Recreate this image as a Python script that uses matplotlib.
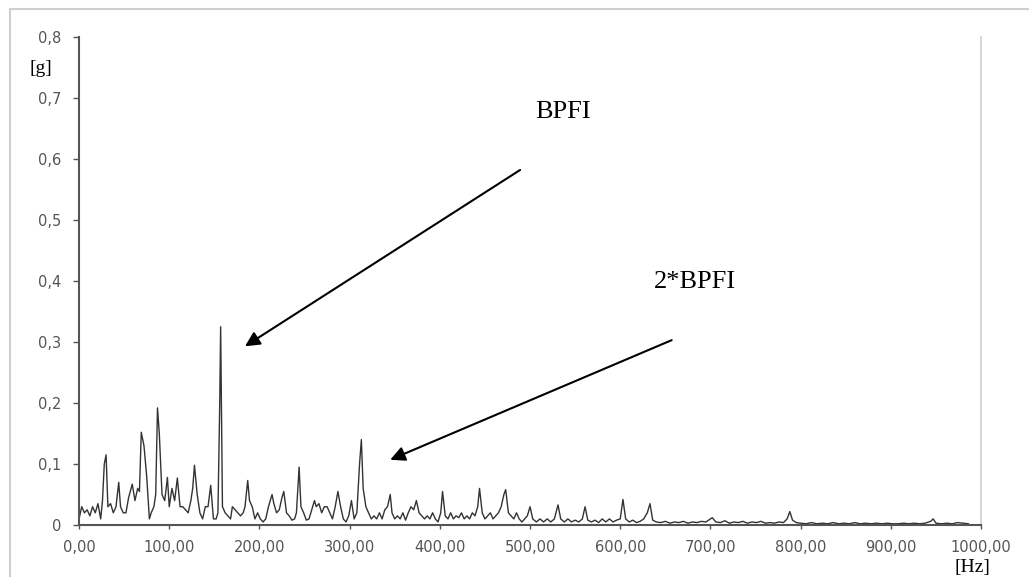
import numpy as np
import matplotlib
matplotlib.use("Agg")
import matplotlib.pyplot as plt
from matplotlib.patches import Rectangle

# spectrum: frequency [Hz] and amplitude [g]
freq = [0, 3, 6, 9, 12, 15, 18, 21, 24, 26, 28, 30, 32, 35, 38, 41, 44, 46, 49,
        52, 55, 59, 62, 65, 67, 69, 72, 75, 78, 80, 83, 85, 87, 89, 92, 95, 98,
        100, 103, 106, 109, 112, 115, 118, 121, 124, 126, 128, 131, 134, 137,
        140, 143, 146, 149, 152, 154, 156, 157, 159,
        162, 165, 168, 170, 173, 176, 179, 182, 184, 187, 189, 192, 195, 198,
        201, 204, 207, 210, 214, 216, 219, 222, 225, 227, 230, 233, 236, 239,
        241, 244, 246, 249,
        252, 255, 258, 261, 263, 266, 269, 272, 275, 278, 281, 284, 287, 290,
        293, 296, 299, 302, 305, 308, 311, 313, 315, 318, 321, 324, 327, 330,
        333, 336, 339, 342, 345, 347, 350,
        353, 356, 359, 362, 365, 368, 371, 374, 377, 380, 383, 386, 389, 392,
        395, 398, 401, 403, 406, 409, 412, 415, 418, 421, 424, 427, 430, 433,
        436, 439, 442, 444, 447, 450, 453, 456, 459, 462, 465, 468, 471, 473,
        476, 479, 482, 485, 488, 491, 494, 497, 500, 503,
        507, 511, 515, 519, 523, 527, 531, 534, 538, 542, 546, 550, 554, 558,
        561, 564, 568, 572, 576, 580, 584, 588, 592, 596, 600, 603, 606, 610,
        614, 618, 622, 626, 630, 633, 636, 640, 645, 650, 655, 660, 665, 670,
        675, 680, 685, 690, 695, 700, 702,
        706, 711, 716, 721, 726, 731, 736, 741, 746, 751, 756, 761, 766, 771,
        776, 781, 785, 788, 791, 795, 800, 806, 812, 818, 824, 830, 836, 842,
        848, 854, 860, 866, 872, 878, 884, 890, 896, 902, 908, 914, 920, 926,
        932, 938, 944, 947, 950, 956, 962, 968, 974, 980, 986]

amp = [0.01, 0.03, 0.02, 0.025, 0.015, 0.03, 0.02, 0.035, 0.01, 0.04, 0.10, 0.115, 0.03, 0.035, 0.02, 0.03, 0.07, 0.03, 0.02,
       0.02, 0.045, 0.067, 0.04, 0.06, 0.055, 0.152, 0.13, 0.08, 0.01, 0.02, 0.03, 0.05, 0.192, 0.15, 0.05, 0.04, 0.078,
       0.03, 0.06, 0.04, 0.077, 0.03, 0.03, 0.025, 0.02, 0.04, 0.06, 0.098, 0.05, 0.02, 0.01,
       0.03, 0.03, 0.065, 0.01, 0.01, 0.02, 0.20, 0.325, 0.03,
       0.02, 0.015, 0.01, 0.03, 0.025, 0.02, 0.015, 0.02, 0.03, 0.073, 0.04, 0.03, 0.01, 0.02,
       0.01, 0.005, 0.01, 0.03, 0.05, 0.035, 0.02, 0.025, 0.045, 0.055, 0.02, 0.015, 0.008, 0.01,
       0.02, 0.095, 0.03, 0.02,
       0.008, 0.01, 0.025, 0.04, 0.03, 0.035, 0.02, 0.03, 0.03, 0.02, 0.01, 0.03, 0.055, 0.03,
       0.01, 0.005, 0.015, 0.04, 0.01, 0.02, 0.10, 0.14, 0.06, 0.03, 0.02, 0.01, 0.015, 0.01,
       0.02, 0.01, 0.025, 0.03, 0.05, 0.02, 0.01,
       0.015, 0.01, 0.02, 0.008, 0.02, 0.03, 0.025, 0.04, 0.02, 0.015, 0.01, 0.015, 0.01, 0.02,
       0.01, 0.005, 0.02, 0.055, 0.015, 0.01, 0.02, 0.01, 0.015, 0.012, 0.02, 0.01, 0.015, 0.01,
       0.02, 0.015, 0.03, 0.06, 0.02, 0.01, 0.015, 0.02, 0.01, 0.015, 0.02, 0.03, 0.05, 0.058,
       0.02, 0.015, 0.01, 0.02, 0.01, 0.005, 0.01, 0.015, 0.03, 0.01,
       0.005, 0.01, 0.005, 0.01, 0.005, 0.01, 0.033, 0.01, 0.005, 0.01, 0.005, 0.008, 0.005, 0.01,
       0.03, 0.008, 0.005, 0.008, 0.004, 0.01, 0.005, 0.01, 0.005, 0.008, 0.01, 0.042, 0.01, 0.005,
       0.008, 0.004, 0.006, 0.01, 0.02, 0.035, 0.008, 0.005, 0.004, 0.006, 0.003, 0.005, 0.004, 0.006,
       0.003, 0.005, 0.004, 0.006, 0.005, 0.01, 0.012,
       0.005, 0.004, 0.007, 0.003, 0.005, 0.004, 0.006, 0.003, 0.005, 0.004, 0.006, 0.003, 0.004, 0.003,
       0.005, 0.004, 0.01, 0.022, 0.008, 0.004, 0.003, 0.002, 0.004, 0.002, 0.003, 0.002, 0.004, 0.002,
       0.003, 0.002, 0.004, 0.002, 0.003, 0.002, 0.003, 0.002, 0.003, 0.002, 0.002, 0.003, 0.002, 0.003,
       0.002, 0.003, 0.006, 0.01, 0.003, 0.002, 0.003, 0.002, 0.004, 0.003, 0.002]

x_ticks = [0, 100, 200, 300, 400, 500, 600, 700, 800, 900, 1000]
x_labels = ["0,00", "100,00", "200,00", "300,00", "400,00", "500,00",
            "600,00", "700,00", "800,00", "900,00", "1000,00"]
y_ticks = [0, 0.1, 0.2, 0.3, 0.4, 0.5, 0.6, 0.7, 0.8]
y_labels = ["0", "0,1", "0,2", "0,3", "0,4", "0,5", "0,6", "0,7", "0,8"]

fig = plt.figure(figsize=(10.29, 5.77), dpi=100)
ax = fig.add_axes([0.0768, 0.0901, 0.8766, 0.8458])

# outer frame of the picture (runs off the right and bottom edges)
fig.patches.append(Rectangle((10 / 1029, -0.05), 1.2, 568 / 577 + 0.05,
                             transform=fig.transFigure, fill=False,
                             edgecolor="#cfcfcf", lw=1.5))

ax.plot(freq, amp, color="#333333", lw=1.0)

ax.set_xlim(0, 1000)
ax.set_ylim(0, 0.8)
ax.set_xticks(x_ticks)
ax.set_xticklabels(x_labels)
ax.set_yticks(y_ticks)
ax.set_yticklabels(y_labels)
ax.tick_params(axis="both", labelsize=10.5, colors="#555555", length=4, width=1)
ax.tick_params(axis="x", length=3, pad=8)
ax.tick_params(axis="y", pad=9)

ax.spines["top"].set_visible(False)
ax.spines["right"].set_color("#d0d0d0")
ax.spines["right"].set_linewidth(1.2)
ax.spines["left"].set_color("#555555")
ax.spines["left"].set_linewidth(1.5)
ax.spines["bottom"].set_color("#555555")
ax.spines["bottom"].set_linewidth(1.5)

serif = "Liberation Serif"
ax.text(563 / 0.902 - 79 / 0.902, 0.677, "BPFI", fontsize=19, family=serif,
        ha="center", va="center")
ax.text(695 / 0.902 - 79 / 0.902, 0.398, "2*BPFI", fontsize=19, family=serif,
        ha="center", va="center")
ax.text(-0.042, 0.749, "[g]", fontsize=14, family=serif, ha="center", va="center",
        transform=ax.get_yaxis_transform(), clip_on=False)
ax.text(990, -0.069, "[Hz]", fontsize=14, family=serif, ha="center", va="center",
        clip_on=False)

arrow = dict(arrowstyle="-|>", mutation_scale=22, lw=1.5, color="black",
             shrinkA=0, shrinkB=0)
ax.annotate("", xy=(184, 0.293), xytext=(489, 0.582), arrowprops=arrow)
ax.annotate("", xy=(345, 0.107), xytext=(657, 0.303), arrowprops=arrow)

fig.savefig("out.png", dpi=100)
